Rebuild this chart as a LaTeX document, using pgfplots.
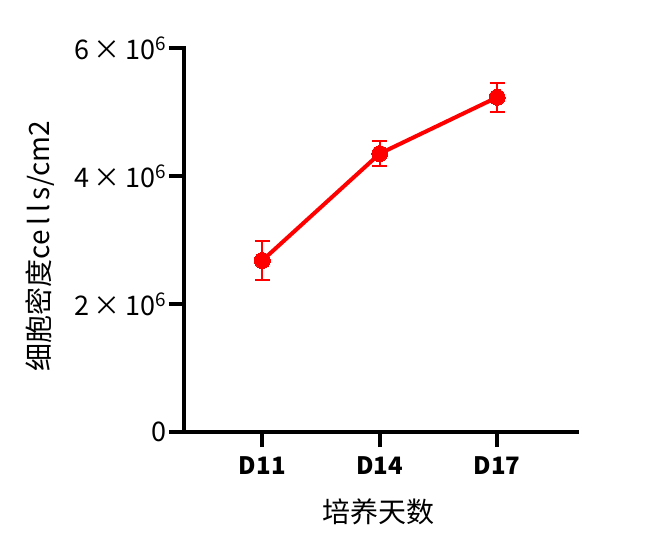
\documentclass[border=0pt]{standalone}
\usepackage{fontspec}
\setmainfont{Noto Sans CJK SC}
\usepackage{pgfplots}
\pgfplotsset{compat=1.18}

\definecolor{ptred}{RGB}{255,0,0}

\begin{document}
\begin{tikzpicture}
\useasboundingbox (-184pt,-123pt) rectangle (484pt,432pt);
\begin{axis}[
    scale only axis,
    width=393pt, height=384pt,
    xmin=0.333, xmax=3.68,
    ymin=0, ymax=6000000,
    axis x line*=bottom, axis y line*=left,
    axis line style={line width=4pt, line cap=rect},
    every tick/.style={line width=4pt, black},
    major tick length=15pt,
    tick align=outside,
    xtick={1,2,3},
    xticklabels={D11,D14,D17},
    ytick={0,2000000,4000000,6000000},
    yticklabels={0, 2\,×\,10\textsuperscript{6}, 4\,×\,10\textsuperscript{6}, 6\,×\,10\textsuperscript{6}},
    scaled y ticks=false,
    /pgf/number format/assume math mode=true,
    xticklabel style={font=\fontsize{24}{24}\selectfont\bfseries, yshift=-6pt},
    yticklabel style={font=\fontsize{27}{27}\selectfont, xshift=1pt},
    xlabel={培养天数},
    ylabel={细胞密度ce\,l\,l\,s/cm2},
    xlabel style={font=\fontsize{28}{28}\selectfont,
        at={(axis description cs:0.494,-0.208)}, anchor=center},
    ylabel style={font=\fontsize{28}{28}\selectfont,
        at={(axis description cs:-0.366,0.484)}, anchor=center},
    clip=false,
]
\addplot+[
    color=ptred, line width=4pt,
    mark=*, mark size=8pt,
    mark options={fill=ptred, draw=ptred, line width=0pt},
    error bars/.cd,
    y dir=both, y explicit,
    error bar style={line width=2pt, color=ptred},
    error mark options={rotate=90, mark size=7.5pt, line width=2pt, color=ptred},
] table [y error=e] {
    x y e
    1 2680000 310000
    2 4350000 200000
    3 5230000 230000
};
\end{axis}
\end{tikzpicture}
\end{document}
